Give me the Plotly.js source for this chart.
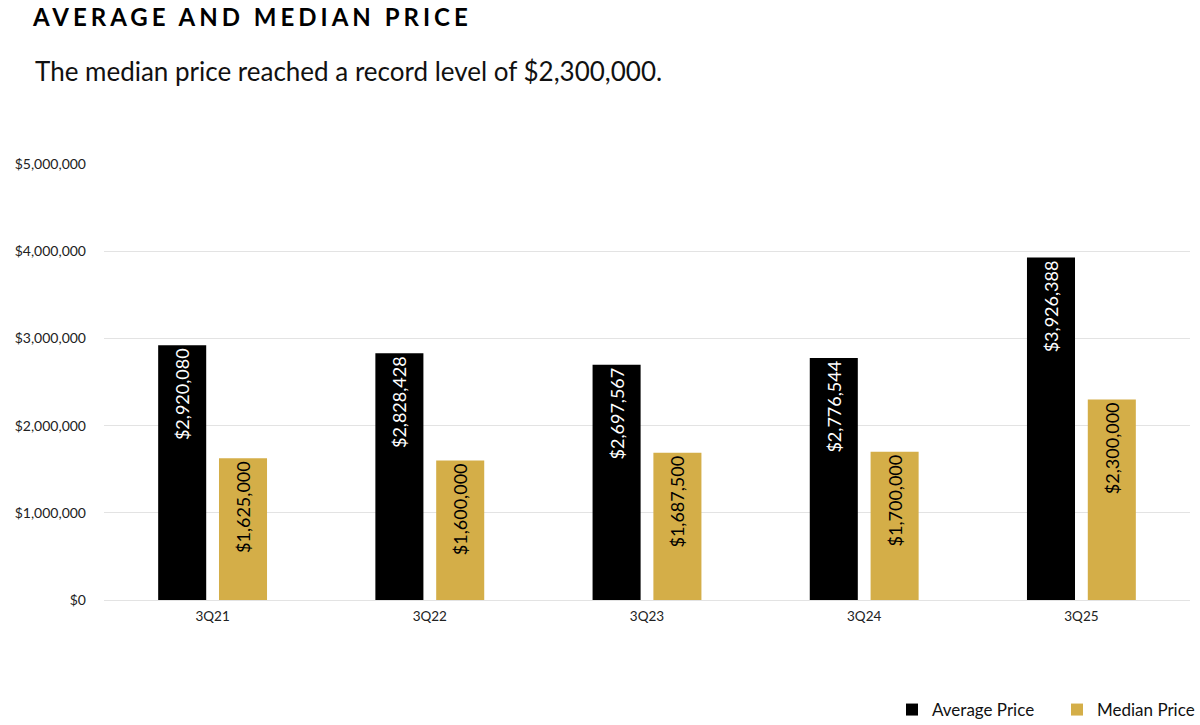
<!DOCTYPE html>
<html>
<head>
<meta charset="utf-8">
<script src="https://cdn.plot.ly/plotly-3.0.1.min.js"></script>
<style>
  html, body { margin: 0; padding: 0; background: #fff; }
  #chart { width: 1200px; height: 725px; }
  .gtitle { letter-spacing: 4px; }
</style>
</head>
<body>
<div id="chart"></div>
<script>
const categories = ["3Q21", "3Q22", "3Q23", "3Q24", "3Q25"];
const averagePrice = [2920080, 2828428, 2697567, 2776544, 3926388];
const medianPrice = [1625000, 1600000, 1687500, 1700000, 2300000];
const yTickVals = [0, 1000000, 2000000, 3000000, 4000000, 5000000];
const yTickText = ["$0", "$1,000,000", "$2,000,000", "$3,000,000", "$4,000,000", "$5,000,000"];

const fmt = v => "$" + v.toLocaleString("en-US");

const black = "#000000";
const gold = "#d4ae48";

const traces = [
  {
    type: "bar",
    name: "Average Price",
    x: categories,
    y: averagePrice,
    marker: { color: black },
    text: averagePrice.map(fmt),
    texttemplate: "%{text}",
    textposition: "inside",
    insidetextanchor: "end",
    textangle: -90,
    textfont: { family: "Lato, sans-serif", size: 18, color: "#ffffff" },
    hoverinfo: "x+y",
    legend: "legend"
  },
  {
    type: "bar",
    name: "Median Price",
    x: categories,
    y: medianPrice,
    marker: { color: gold },
    text: medianPrice.map(fmt),
    texttemplate: "%{text}",
    textposition: "inside",
    insidetextanchor: "end",
    textangle: -90,
    textfont: { family: "Lato, sans-serif", size: 18, color: "#000000" },
    hoverinfo: "x+y",
    legend: "legend2"
  }
];

const legendFont = { family: "Lato, sans-serif", size: 17, color: "#111" };

const layout = {
  width: 1200,
  height: 725,
  margin: { l: 104, r: 10, t: 164, b: 125, autoexpand: false },
  paper_bgcolor: "#ffffff",
  plot_bgcolor: "#ffffff",
  font: { family: "Lato, sans-serif", color: "#222" },
  title: {
    text: "<b>AVERAGE AND MEDIAN PRICE</b>",
    font: { family: "Lato, sans-serif", size: 24, color: "#000" },
    xref: "container", yref: "container",
    x: 33 / 1200, xanchor: "left",
    y: 1 - 18 / 725, yanchor: "middle"
  },
  annotations: [
    {
      text: "The median price reached a record level of $2,300,000.",
      xref: "paper", yref: "paper",
      x: (33 - 104) / 1086, xanchor: "left",
      y: (600 - 71) / 436, yanchor: "middle",
      showarrow: false,
      font: { family: "Lato, sans-serif", size: 26, color: "#111" }
    }
  ],
  barmode: "group",
  bargap: 0.44,
  bargroupgap: 0.21,
  xaxis: {
    type: "category",
    showgrid: false,
    showline: false,
    ticks: "",
    ticklabelstandoff: 6,
    tickfont: { family: "Lato, sans-serif", size: 13.5, color: "#222" },
    zeroline: false
  },
  yaxis: {
    range: [0, 5000000],
    tickvals: yTickVals,
    ticktext: yTickText,
    showgrid: true,
    gridcolor: "#e3e3e3",
    gridwidth: 1,
    zeroline: true,
    zerolinecolor: "#e3e3e3",
    zerolinewidth: 1,
    ticks: "",
    ticklabelstandoff: 17,
    tickfont: { family: "Lato, sans-serif", size: 14, color: "#222" }
  },
  showlegend: true,
  legend: {
    orientation: "h",
    xref: "container", yref: "container",
    x: 1040 / 1200, xanchor: "right",
    y: 15 / 725, yanchor: "middle",
    font: legendFont,
    itemwidth: 30
  },
  legend2: {
    orientation: "h",
    xref: "container", yref: "container",
    x: 1, xanchor: "right",
    y: 15 / 725, yanchor: "middle",
    font: legendFont,
    itemwidth: 30
  }
};

Plotly.newPlot("chart", traces, layout, { displayModeBar: false, staticPlot: true });
</script>
</body>
</html>
